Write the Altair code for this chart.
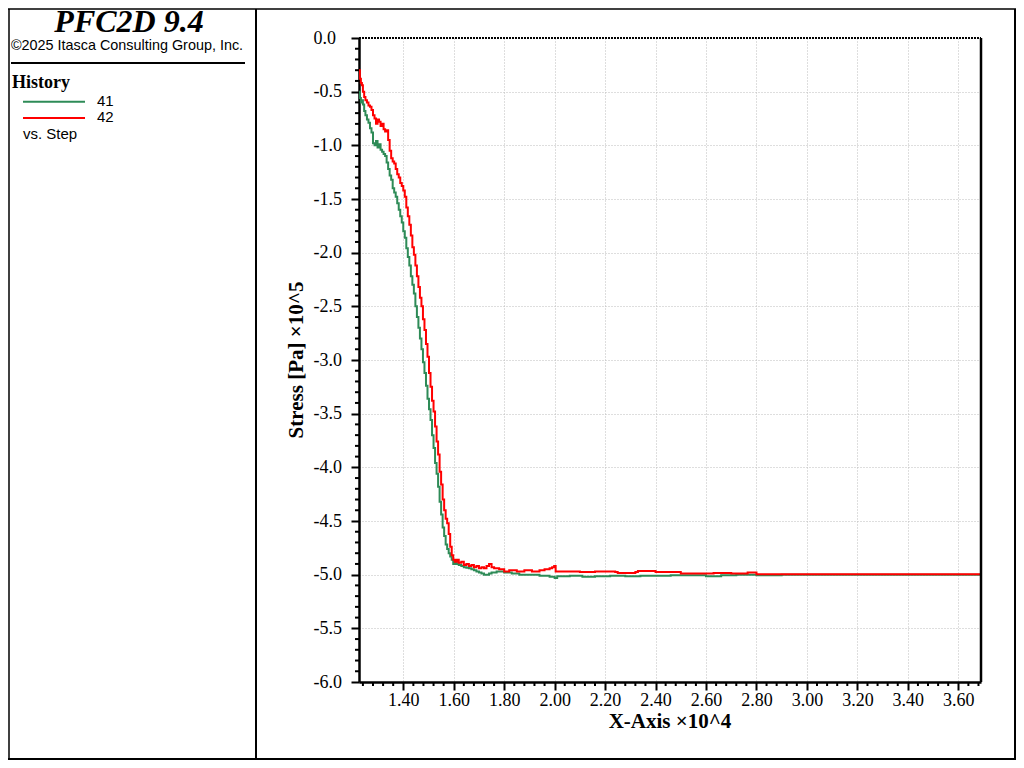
import altair as alt
import pandas as pd

# ---- data (x in units of 10^4 steps, y in units of 10^5 Pa) ----
step_41 = [1.2245, 1.228, 1.232, 1.236, 1.240, 1.245, 1.250, 1.256, 1.262, 1.268,
           1.274, 1.280, 1.286, 1.292, 1.298, 1.304, 1.310, 1.316, 1.322, 1.328,
           1.334, 1.340, 1.346, 1.352, 1.358, 1.364, 1.370, 1.376, 1.382, 1.388,
           1.394, 1.400, 1.406, 1.412, 1.418, 1.424, 1.430, 1.436, 1.442, 1.448,
           1.454, 1.460, 1.466, 1.472, 1.478, 1.484, 1.490, 1.496, 1.502, 1.508,
           1.514, 1.520, 1.526, 1.532, 1.538, 1.544, 1.550, 1.556, 1.562, 1.568,
           1.574, 1.580, 1.586, 1.592, 1.598, 1.604, 1.612, 1.620, 1.630, 1.640,
           1.650, 1.660, 1.670, 1.680, 1.690, 1.700, 1.710, 1.720, 1.730, 1.740,
           1.750, 1.770, 1.800, 1.830, 1.860, 1.900, 1.940, 1.980, 2.000, 2.010,
           2.060, 2.110, 2.160, 2.220, 2.280, 2.340, 2.400, 2.460, 2.540, 2.600,
           2.660, 2.720, 2.800, 2.900, 3.170, 3.690]
stress_41 = [-0.50, -0.56, -0.60, -0.58, -0.62, -0.68, -0.72, -0.76, -0.79, -0.84,
             -0.88, -0.98, -1.00, -0.96, -1.02, -0.99, -1.04, -1.06, -1.08, -1.10,
             -1.16, -1.22, -1.28, -1.32, -1.40, -1.44, -1.48, -1.54, -1.60, -1.66,
             -1.72, -1.80, -1.86, -1.96, -2.04, -2.12, -2.22, -2.30, -2.38, -2.50,
             -2.60, -2.70, -2.80, -2.90, -3.02, -3.12, -3.24, -3.36, -3.46, -3.56,
             -3.70, -3.82, -3.96, -4.06, -4.18, -4.32, -4.44, -4.56, -4.64, -4.72,
             -4.76, -4.80, -4.83, -4.86, -4.90, -4.88, -4.90, -4.91, -4.92, -4.93,
             -4.935, -4.94, -4.95, -4.96, -4.97, -4.98, -4.99, -5.00, -5.00, -4.99,
             -4.98, -4.97, -4.98, -4.99, -5.00, -5.00, -5.01, -5.02, -5.03, -5.015,
             -5.01, -5.02, -5.015, -5.01, -5.015, -5.01, -5.01, -5.005, -5.005, -5.015,
             -5.005, -5.00, -5.005, -5.00, -5.00, -4.995]

step_42 = [1.2245, 1.228, 1.232, 1.236, 1.240, 1.245, 1.250, 1.256, 1.262, 1.268,
           1.274, 1.280, 1.286, 1.292, 1.298, 1.304, 1.310, 1.316, 1.322, 1.328,
           1.334, 1.340, 1.346, 1.352, 1.358, 1.364, 1.370, 1.376, 1.382, 1.388,
           1.394, 1.400, 1.406, 1.412, 1.418, 1.424, 1.430, 1.436, 1.442, 1.448,
           1.454, 1.460, 1.466, 1.472, 1.478, 1.484, 1.490, 1.496, 1.502, 1.508,
           1.514, 1.520, 1.526, 1.532, 1.538, 1.544, 1.550, 1.556, 1.562, 1.568,
           1.574, 1.580, 1.586, 1.592, 1.598, 1.604, 1.612, 1.620, 1.630, 1.640,
           1.650, 1.660, 1.670, 1.680, 1.690, 1.700, 1.710, 1.720, 1.730, 1.740,
           1.750, 1.760, 1.780, 1.800, 1.820, 1.850, 1.880, 1.910, 1.940, 1.960,
           1.980, 1.990, 1.998, 2.004, 2.050, 2.100, 2.160, 2.240, 2.250, 2.320,
           2.330, 2.400, 2.500, 2.560, 2.630, 2.700, 2.765, 2.800, 3.000, 3.690]
stress_42 = [-0.30, -0.38, -0.42, -0.44, -0.50, -0.55, -0.58, -0.60, -0.63, -0.64,
             -0.67, -0.72, -0.75, -0.80, -0.76, -0.78, -0.82, -0.80, -0.85, -0.87,
             -0.86, -0.95, -1.05, -1.12, -1.15, -1.17, -1.22, -1.27, -1.30, -1.35,
             -1.38, -1.42, -1.48, -1.58, -1.66, -1.74, -1.84, -1.95, -2.02, -2.12,
             -2.22, -2.32, -2.42, -2.50, -2.62, -2.72, -2.85, -2.97, -3.12, -3.25,
             -3.38, -3.48, -3.62, -3.76, -3.88, -4.04, -4.16, -4.30, -4.40, -4.48,
             -4.52, -4.62, -4.74, -4.82, -4.86, -4.88, -4.86, -4.89, -4.88, -4.91,
             -4.90, -4.92, -4.91, -4.93, -4.92, -4.94, -4.93, -4.94, -4.92, -4.90,
             -4.93, -4.94, -4.95, -4.97, -4.96, -4.97, -4.96, -4.97, -4.96, -4.95,
             -4.94, -4.93, -4.92, -4.97, -4.97, -4.975, -4.97, -4.975, -4.985, -4.975,
             -4.965, -4.975, -4.99, -4.99, -4.985, -4.99, -4.98, -4.995, -4.995, -4.995]

series_names = ["41", "42"]
series_colors = ["#2e8b57", "#ff0000"]

x_major = [1.40, 1.60, 1.80, 2.00, 2.20, 2.40, 2.60, 2.80, 3.00, 3.20, 3.40, 3.60]
y_major = [0.0, -0.5, -1.0, -1.5, -2.0, -2.5, -3.0, -3.5, -4.0, -4.5, -5.0, -5.5, -6.0]
x_minor = [round(1.24 + 0.04 * i, 2) for i in range(62) if round((1.24 + 0.04 * i) * 100) % 20 != 0]
y_minor = [round(-0.1 * i, 1) for i in range(61) if i % 5 != 0]

x_domain = [1.2245, 3.69]
y_domain = [-6.0, 0.0]

W, H = 622, 644
SERIF = "Liberation Serif"
SANS = "Liberation Sans"

df = pd.DataFrame({
    "step": step_41 + step_42,
    "stress": stress_41 + stress_42,
    "series": ["41"] * len(step_41) + ["42"] * len(step_42),
})
minor_x_df = pd.DataFrame({"step": x_minor})
minor_y_df = pd.DataFrame({"stress": y_minor})

xs = alt.Scale(domain=x_domain, nice=False, zero=False)
ys = alt.Scale(domain=y_domain, nice=False, zero=False)

x_axis = alt.Axis(values=x_major, format=".2f", title=None,
                  labelFont=SERIF, labelFontSize=18, labelColor="black",
                  labelPadding=1, labelFlush=False, labelOverlap=False,
                  tickSize=8, tickWidth=2, tickColor="black",
                  domainColor="black", domainWidth=2.5,
                  grid=True, gridColor="#bdbdbd", gridDash=[1, 2], gridWidth=1)
y_axis = alt.Axis(values=y_major, title=None,
                  labelExpr="(datum.value < 0 ? '-' : '') + format(abs(datum.value), '.1f')",
                  labelFont=SERIF, labelFontSize=18, labelColor="black",
                  labelAlign="left", labelBaseline="middle", labelPadding=38,
                  labelFlush=False, labelOverlap=False,
                  tickSize=8, tickWidth=2, tickColor="black",
                  domainColor="black", domainWidth=2.5,
                  grid=True, gridColor="#bdbdbd", gridDash=[1, 2], gridWidth=1)

lines = alt.Chart(df).mark_line(strokeWidth=2, clip=True, interpolate="step-after").encode(
    x=alt.X("step:Q", scale=xs, axis=x_axis),
    y=alt.Y("stress:Q", scale=ys, axis=y_axis),
    color=alt.Color("series:N", scale=alt.Scale(domain=series_names, range=series_colors), legend=None),
)

xminor = alt.Chart(minor_x_df).mark_rule(color="black", strokeWidth=2).encode(
    x=alt.X("step:Q", scale=xs, axis=x_axis), y=alt.value(H), y2=alt.value(H + 4))
yminor = alt.Chart(minor_y_df).mark_rule(color="black", strokeWidth=2).encode(
    y=alt.Y("stress:Q", scale=ys, axis=y_axis), x=alt.value(-4), x2=alt.value(0))

one = pd.DataFrame({"a": [0]})


def hrule(x1, x2, y, color="black", width=2, dash=None):
    kw = dict(color=color, strokeWidth=width)
    if dash:
        kw["strokeDash"] = dash
    return alt.Chart(one).mark_rule(**kw).encode(x=alt.value(x1), x2=alt.value(x2), y=alt.value(y))


def vrule(x, y1, y2, color="black", width=2):
    return alt.Chart(one).mark_rule(color=color, strokeWidth=width).encode(
        x=alt.value(x), y=alt.value(y1), y2=alt.value(y2))


def label(text, x, y, font, size, weight="normal", style="normal", align="left", angle=0):
    kw = dict(font=font, fontSize=size, fontWeight=weight, fontStyle=style,
              align=align, baseline="alphabetic", color="black")
    if angle:
        kw["angle"] = angle
    return alt.Chart(pd.DataFrame({"t": [text]})).mark_text(**kw).encode(
        text="t:N", x=alt.value(x), y=alt.value(y))


decor = [
    hrule(0, W, 0, dash=[2, 1]),            # top border of plot
    vrule(W, 0, H, width=2.5),             # right border of plot
    # outer frame and panel separator
    vrule(-350, -29, 721, width=1.5),
    vrule(656, -29, 721, width=2),
    hrule(-351, 657, -29, width=1.5),
    hrule(-351, 657, 721, width=2),
    vrule(-103, -29, 721, width=2),
    # left panel
    label("PFC2D 9.4", -230, -6, SERIF, 32, weight="bold", style="italic", align="center"),
    label("\u00a92025 Itasca Consulting Group, Inc.", -232, 12, SANS, 14.4, align="center"),
    hrule(-348, -114, 25, width=2),
    label("History", -347, 50, SERIF, 18, weight="bold"),
    hrule(-336, -274, 63.7, color=series_colors[0], width=2),
    label(series_names[0], -262, 68, SANS, 15),
    hrule(-336, -274, 80, color=series_colors[1], width=2),
    label(series_names[1], -262, 84, SANS, 15),
    label("vs. Step", -336, 101, SANS, 15),
    # axis titles
    label("X-Axis \u00d710^4", W / 2, 690, SERIF, 21, weight="bold", align="center"),
    label("Stress [Pa] \u00d710^5", -56, H / 2, SERIF, 21, weight="bold", align="center", angle=270),
]

chart = alt.layer(lines, xminor, yminor, *decor).properties(
    width=W, height=H,
    padding={"left": 351, "top": 30, "right": 35, "bottom": 78},
    autosize=alt.AutoSizeParams(type="none"),
    background="white",
).configure_view(stroke=None)

chart.save("out.html", embed_options={"renderer": "svg", "actions": False})
